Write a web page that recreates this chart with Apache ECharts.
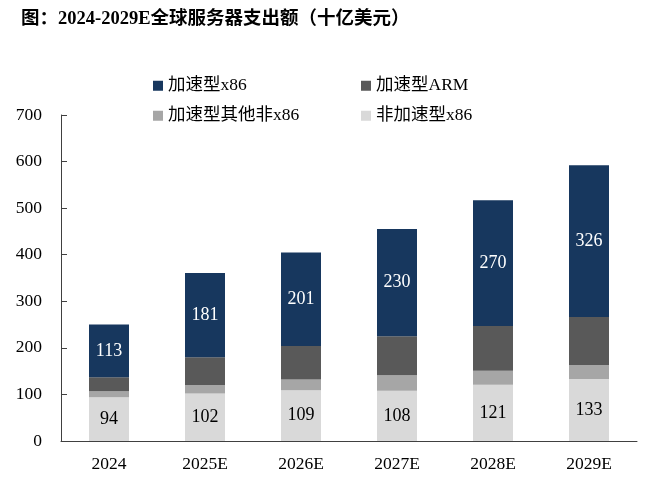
<!DOCTYPE html>
<html>
<head>
<meta charset="utf-8">
<script src="https://cdn.jsdelivr.net/npm/echarts@6/dist/echarts.min.js"></script>
<style>
  html, body { margin: 0; padding: 0; background: #fff; }
  #main { width: 651px; height: 483px; }
</style>
</head>
<body>
<div id="main"></div>
<script>
// 数据（十亿美元）
const years = ['2024', '2025E', '2026E', '2027E', '2028E', '2029E'];
const nonAccX86 = [94, 102, 109, 108, 121, 133];   // 非加速型x86
const accOther = [13, 18, 23, 33, 30, 30];         // 加速型其他非x86
const accArm = [30, 60, 72, 84, 96, 103];          // 加速型ARM
const accX86 = [113, 181, 201, 230, 270, 326];     // 加速型x86
const yTicks = [0, 100, 200, 300, 400, 500, 600, 700];

const FONT = '"Liberation Serif", "Noto Sans CJK SC", serif';
const colors = {
    accX86: '#17375E',
    accArm: '#595959',
    accOther: '#A6A6A6',
    nonAccX86: '#D9D9D9'
};

const myChart = echarts.init(document.getElementById('main'));

// 图例 2x2 排列，每项单独定位
const makeLegend = (name, left, top) => ({
    data: [name],
    left: left,
    top: top,
    itemWidth: 10,
    itemHeight: 10,
    itemGap: 5,
    icon: 'rect',
    textStyle: {
        fontFamily: FONT,
        fontSize: 17.5,
        color: '#000'
    }
});

const option = {
    animation: false,
    title: {
        text: '图：2024-2029E全球服务器支出额（十亿美元）',
        left: 16,
        top: 5,
        textStyle: {
            fontFamily: FONT,
            fontSize: 18.5,
            fontWeight: 'bold',
            color: '#000'
        }
    },
    legend: [
        makeLegend('加速型x86', 148, 72),
        makeLegend('加速型ARM', 356, 72),
        makeLegend('加速型其他非x86', 148, 102),
        makeLegend('非加速型x86', 356, 102)
    ],
    grid: {
        left: 61,
        right: 14,
        top: 115,
        bottom: 42
    },
    xAxis: {
        type: 'category',
        data: years,
        axisLine: { lineStyle: { color: '#404040', width: 1 } },
        axisTick: { inside: true, length: 6, lineStyle: { color: '#404040' } },
        axisLabel: {
            fontFamily: FONT,
            fontSize: 17.5,
            color: '#000',
            margin: 15
        }
    },
    yAxis: {
        type: 'value',
        min: yTicks[0],
        max: yTicks[yTicks.length - 1],
        interval: 100,
        splitLine: { show: false },
        axisLine: { show: true, lineStyle: { color: '#404040', width: 1 } },
        axisTick: { show: true, inside: true, length: 6, lineStyle: { color: '#404040' } },
        axisLabel: {
            fontFamily: FONT,
            fontSize: 17.5,
            color: '#000',
            margin: 19
        }
    },
    series: [
        {
            name: '非加速型x86',
            type: 'bar',
            stack: 'total',
            barWidth: 40,
            data: nonAccX86,
            itemStyle: { color: colors.nonAccX86 },
            label: {
                show: true,
                position: 'inside',
                fontFamily: FONT,
                fontSize: 18,
                color: '#000'
            }
        },
        {
            name: '加速型其他非x86',
            type: 'bar',
            stack: 'total',
            barWidth: 40,
            data: accOther,
            itemStyle: { color: colors.accOther }
        },
        {
            name: '加速型ARM',
            type: 'bar',
            stack: 'total',
            barWidth: 40,
            data: accArm,
            itemStyle: { color: colors.accArm }
        },
        {
            name: '加速型x86',
            type: 'bar',
            stack: 'total',
            barWidth: 40,
            data: accX86,
            itemStyle: { color: colors.accX86 },
            label: {
                show: true,
                position: 'inside',
                fontFamily: FONT,
                fontSize: 18,
                color: '#fff'
            }
        }
    ]
};

myChart.setOption(option);
</script>
</body>
</html>
